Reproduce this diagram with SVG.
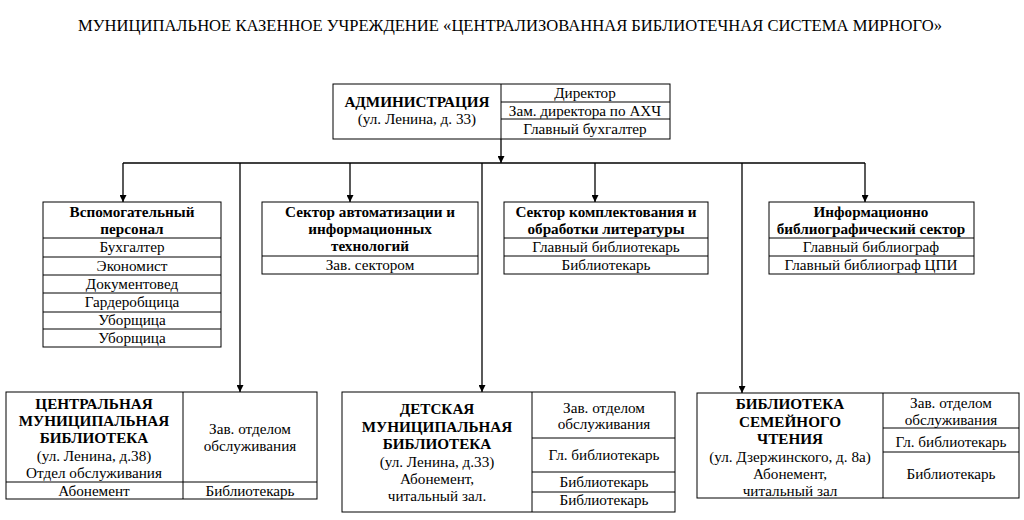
<svg xmlns="http://www.w3.org/2000/svg" width="1024" height="520" viewBox="0 0 1024 520">
<defs>
<marker id="ah" viewBox="0 0 10 10" refX="10" refY="5" markerWidth="7" markerHeight="7" orient="auto" markerUnits="userSpaceOnUse"><path d="M0,0 L10,5 L0,10 z" fill="#000"/></marker>
<style>
text{font-family:"Liberation Serif","Times New Roman",serif;font-size:15.2px;fill:#000;text-anchor:middle}
.b{font-weight:bold}
.t{font-size:16.5px}
rect,line.c{fill:none;stroke:#000;stroke-width:1}
.cn line{stroke:#000;stroke-width:1.3;fill:none}
</style>
</defs>
<rect x="0" y="0" width="1024" height="520" fill="#fff" style="stroke:none"/>
<text class="t" x="510" y="31" textLength="864" lengthAdjust="spacingAndGlyphs">МУНИЦИПАЛЬНОЕ КАЗЕННОЕ УЧРЕЖДЕНИЕ «ЦЕНТРАЛИЗОВАННАЯ БИБЛИОТЕЧНАЯ СИСТЕМА МИРНОГО»</text>

<g id="admin">
<rect x="333" y="84" width="337" height="55"/>
<line class="c" x1="501" y1="84" x2="501" y2="139"/>
<line class="c" x1="501" y1="102" x2="670" y2="102"/>
<line class="c" x1="501" y1="119" x2="670" y2="119"/>
<text class="b" x="417" y="107">АДМИНИСТРАЦИЯ</text>
<text x="417" y="124">(ул. Ленина, д. 33)</text>
<text x="585" y="98">Директор</text>
<text x="585" y="116">Зам. директора по АХЧ</text>
<text x="585" y="134">Главный бухгалтер</text>
</g>

<g id="connectors" class="cn">
<line x1="501" y1="139" x2="501" y2="163" marker-end="url(#ah)"/>
<line x1="123" y1="163" x2="865" y2="163"/>
<line x1="123" y1="163" x2="123" y2="202" marker-end="url(#ah)"/>
<line x1="350" y1="163" x2="350" y2="202" marker-end="url(#ah)"/>
<line x1="595" y1="163" x2="595" y2="202" marker-end="url(#ah)"/>
<line x1="865" y1="163" x2="865" y2="202" marker-end="url(#ah)"/>
<line x1="240" y1="163" x2="240" y2="392" marker-end="url(#ah)"/>
<line x1="482" y1="163" x2="482" y2="392" marker-end="url(#ah)"/>
<line x1="742" y1="163" x2="742" y2="393" marker-end="url(#ah)"/>
</g>

<g id="aux">
<rect x="43" y="202" width="178" height="145"/>
<line class="c" x1="43" y1="238" x2="221" y2="238"/>
<line class="c" x1="43" y1="257" x2="221" y2="257"/>
<line class="c" x1="43" y1="275" x2="221" y2="275"/>
<line class="c" x1="43" y1="293" x2="221" y2="293"/>
<line class="c" x1="43" y1="312" x2="221" y2="312"/>
<line class="c" x1="43" y1="329" x2="221" y2="329"/>
<text class="b" x="132" y="217">Вспомогательный</text>
<text class="b" x="132" y="234">персонал</text>
<text x="132" y="252">Бухгалтер</text>
<text x="132" y="271">Экономист</text>
<text x="132" y="289">Документовед</text>
<text x="132" y="307">Гардеробщица</text>
<text x="132" y="325">Уборщица</text>
<text x="132" y="343">Уборщица</text>
</g>

<g id="auto">
<rect x="262" y="202" width="216" height="72"/>
<line class="c" x1="262" y1="256" x2="478" y2="256"/>
<text class="b" x="370" y="217">Сектор автоматизации и</text>
<text class="b" x="370" y="234">информационных</text>
<text class="b" x="370" y="251">технологий</text>
<text x="370" y="270">Зав. сектором</text>
</g>

<g id="acq">
<rect x="504" y="202" width="204" height="72"/>
<line class="c" x1="504" y1="238" x2="708" y2="238"/>
<line class="c" x1="504" y1="256" x2="708" y2="256"/>
<text class="b" x="606" y="217">Сектор комплектования и</text>
<text class="b" x="606" y="234">обработки литературы</text>
<text x="606" y="252">Главный библиотекарь</text>
<text x="606" y="270">Библиотекарь</text>
</g>

<g id="biblio">
<rect x="769" y="202" width="205" height="72"/>
<line class="c" x1="769" y1="238" x2="974" y2="238"/>
<line class="c" x1="769" y1="256" x2="974" y2="256"/>
<text class="b" x="871" y="217">Информационно</text>
<text class="b" x="871" y="234">библиографический сектор</text>
<text x="871" y="252">Главный библиограф</text>
<text x="871" y="270">Главный библиограф ЦПИ</text>
</g>

<g id="central">
<rect x="6" y="392" width="311" height="107"/>
<line class="c" x1="183" y1="392" x2="183" y2="499"/>
<line class="c" x1="6" y1="482" x2="317" y2="482"/>
<text class="b" x="94" y="409">ЦЕНТРАЛЬНАЯ</text>
<text class="b" x="94" y="426">МУНИЦИПАЛЬНАЯ</text>
<text class="b" x="94" y="443">БИБЛИОТЕКА</text>
<text x="94" y="461">(ул. Ленина, д.38)</text>
<text x="94" y="478">Отдел обслуживания</text>
<text x="94" y="496">Абонемент</text>
<text x="250" y="434">Зав. отделом</text>
<text x="250" y="451">обслуживания</text>
<text x="250" y="496">Библиотекарь</text>
</g>

<g id="children">
<rect x="342" y="392" width="333" height="120"/>
<line class="c" x1="532" y1="392" x2="532" y2="512"/>
<line class="c" x1="532" y1="438" x2="675" y2="438"/>
<line class="c" x1="532" y1="472" x2="675" y2="472"/>
<line class="c" x1="532" y1="492" x2="675" y2="492"/>
<text class="b" x="437" y="414">ДЕТСКАЯ</text>
<text class="b" x="437" y="432">МУНИЦИПАЛЬНАЯ</text>
<text class="b" x="437" y="449">БИБЛИОТЕКА</text>
<text x="437" y="467">(ул. Ленина, д.33)</text>
<text x="437" y="484">Абонемент,</text>
<text x="437" y="501">читальный зал.</text>
<text x="604" y="413">Зав. отделом</text>
<text x="604" y="429">обслуживания</text>
<text x="604" y="460">Гл. библиотекарь</text>
<text x="604" y="487">Библиотекарь</text>
<text x="604" y="505">Библиотекарь</text>
</g>

<g id="family">
<rect x="697" y="393" width="322" height="105"/>
<line class="c" x1="883" y1="393" x2="883" y2="498"/>
<line class="c" x1="883" y1="428" x2="1019" y2="428"/>
<line class="c" x1="883" y1="452" x2="1019" y2="452"/>
<text class="b" x="790" y="409">БИБЛИОТЕКА</text>
<text class="b" x="790" y="427">СЕМЕЙНОГО</text>
<text class="b" x="790" y="444">ЧТЕНИЯ</text>
<text x="790" y="462">(ул. Дзержинского, д. 8а)</text>
<text x="790" y="479">Абонемент,</text>
<text x="790" y="496">читальный зал</text>
<text x="951" y="408">Зав. отделом</text>
<text x="951" y="425">обслуживания</text>
<text x="951" y="447">Гл. библиотекарь</text>
<text x="951" y="479">Библиотекарь</text>
</g>
</svg>
